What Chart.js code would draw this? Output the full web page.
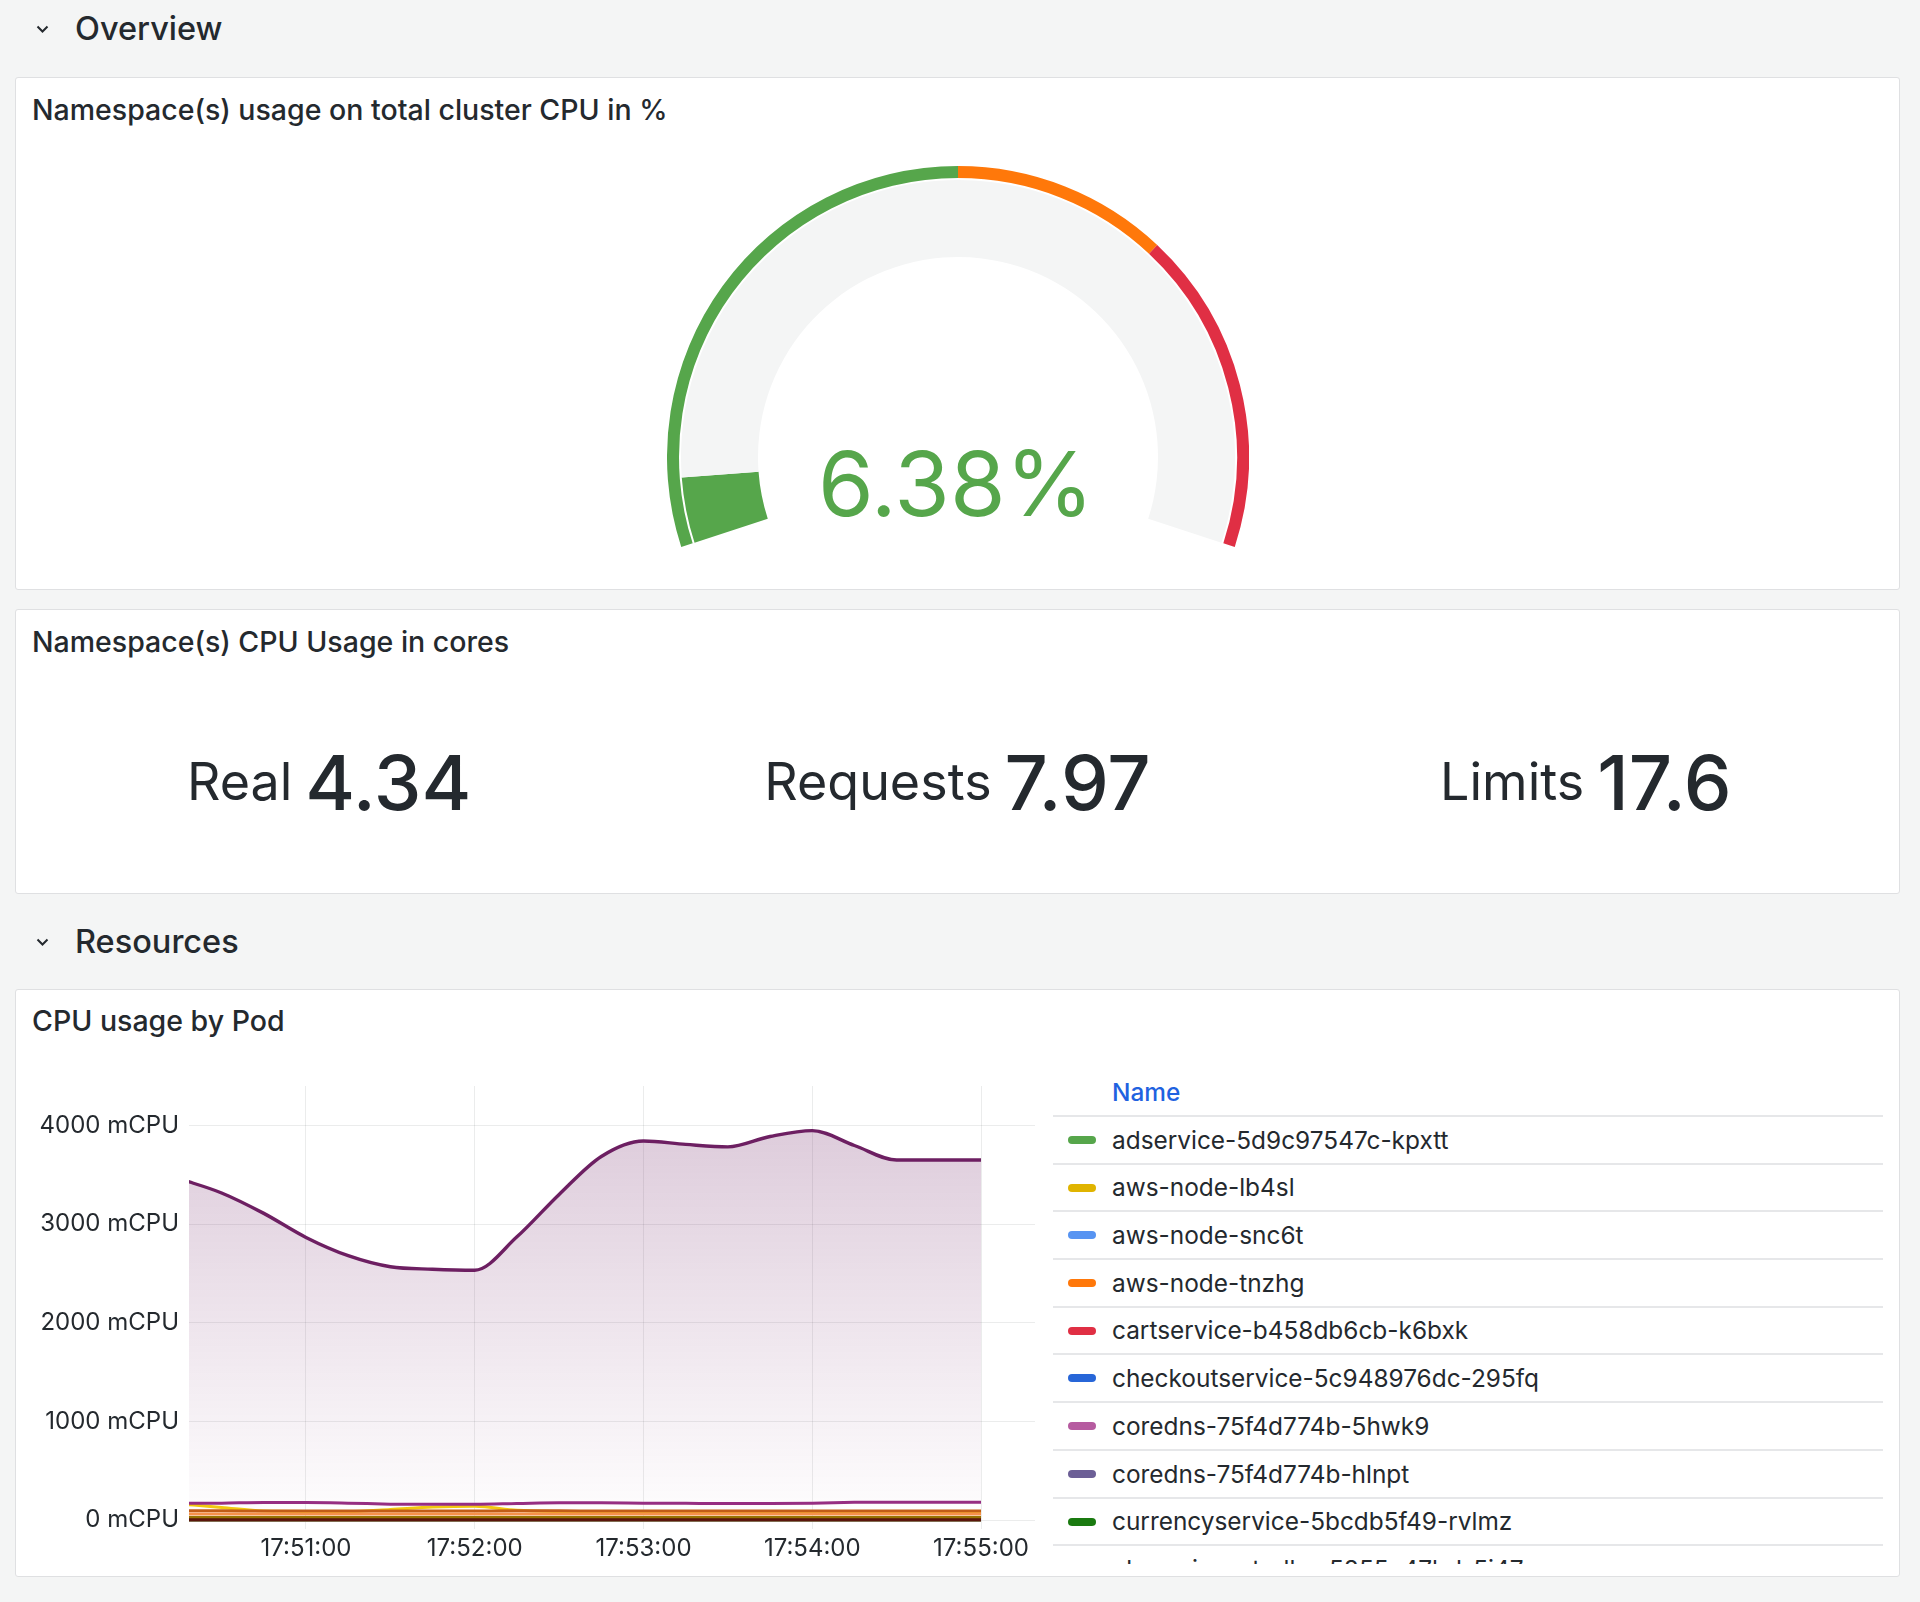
<!DOCTYPE html>
<html>
<head>
<meta charset="utf-8">
<title>Namespace CPU overview</title>
<script src="https://cdn.jsdelivr.net/npm/chart.js@4.4.1/dist/chart.umd.min.js"></script>
<style>
  html, body { margin: 0; padding: 0; }
  body {
    position: relative;
    width: 1920px;
    height: 1602px;
    overflow: hidden;
    background: #f4f5f5;
    font-family: Inter, "Noto Sans", sans-serif;
    color: #24292e;
  }
  .abs { position: absolute; }
  .row-title { font-size: 32.5px; font-weight: 500; line-height: 1; white-space: nowrap; }
  .panel { background: #fff; border: 1px solid #dfe0e2; border-radius: 3px; box-sizing: border-box; }
  .panel-title { font-size: 28.5px; font-weight: 500; line-height: 1; white-space: nowrap; }
  .stat {
    display: flex; align-items: center; justify-content: center; gap: 13px;
    line-height: 1; white-space: nowrap;
  }
  .stat .label { font-size: 52px; font-weight: 400; }
  .stat .value { font-size: 76px; font-weight: 500; }
  #gaugeText { font-size: 90px; font-weight: 400; line-height: 1; text-align: center; color: #56a64b; }
  #legend { overflow: hidden; font-size: 24.4px; line-height: 1; }
  #legend .head {
    height: 40px; border-bottom: 2px solid #e6e7e9; box-sizing: content-box;
    position: relative;
  }
  #legend .head span { position: absolute; left: 59px; top: 5px; color: #1f62e0; font-weight: 500; }
  #legend .item {
    height: 45.7px; border-bottom: 2px solid #e6e7e9; position: relative; white-space: nowrap;
  }
  #legend .swatch { position: absolute; left: 15px; top: 19px; width: 28px; height: 8px; border-radius: 4px; }
  #legend .name { position: absolute; left: 59px; top: 10.7px; }
</style>
</head>
<body>

<svg class="abs" style="left:36px;top:25px" width="13" height="9"><polyline points="1.5,1.5 6.5,6.5 11.5,1.5" fill="none" stroke="#24292e" stroke-width="2"/></svg>
<div class="abs row-title" style="left:75px;top:13px">Overview</div>

<div class="abs panel" style="left:15px;top:77px;width:1885px;height:513px"></div>
<div class="abs panel-title" style="left:32px;top:96px">Namespace(s) usage on total cluster CPU in %</div>
<canvas id="gaugeChart" class="abs" style="left:667px;top:166px" width="582" height="381"></canvas>
<div id="gaugeText" class="abs" style="left:756px;top:439px;width:400px"></div>

<div class="abs panel" style="left:15px;top:609px;width:1885px;height:285px"></div>
<div class="abs panel-title" style="left:32px;top:628px">Namespace(s) CPU Usage in cores</div>
<div id="stats"></div>

<svg class="abs" style="left:36px;top:938px" width="13" height="9"><polyline points="1.5,1.5 6.5,6.5 11.5,1.5" fill="none" stroke="#24292e" stroke-width="2"/></svg>
<div class="abs row-title" style="left:75px;top:926px">Resources</div>

<div class="abs panel" style="left:15px;top:989px;width:1885px;height:588px"></div>
<div class="abs panel-title" style="left:32px;top:1007px">CPU usage by Pod</div>
<canvas id="podChart" class="abs" style="left:30px;top:1076px" width="1010" height="490"></canvas>
<div id="legend" class="abs" style="left:1053px;top:1075px;width:830px;height:489px"></div>

<script>
// gauge: namespace share of cluster CPU
const gaugeValue = 6.38;
const gaugeMax = 100;
const thresholdSteps = [50, 70, 100];
const thresholdColors = ["#56a64b", "#ff780a", "#e02f44"];

// stat row
const statLabels = ["Real", "Requests", "Limits"];
const statValues = [4.34, 7.97, 17.6];

// time series, one sample every 15 s
const sampleTimes = [
  "17:50:15", "17:50:30", "17:50:45", "17:51:00", "17:51:15", "17:51:30", "17:51:45",
  "17:52:00", "17:52:15", "17:52:30", "17:52:45", "17:53:00", "17:53:15", "17:53:30",
  "17:53:45", "17:54:00", "17:54:15", "17:54:30", "17:54:45", "17:55:00",
];
const xTickLabels = ["17:51:00", "17:52:00", "17:53:00", "17:54:00", "17:55:00"];
const yTickValues = [0, 1000, 2000, 3000, 4000];

const podNames = [
  "adservice-5d9c97547c-kpxtt",
  "aws-node-lb4sl",
  "aws-node-snc6t",
  "aws-node-tnzhg",
  "cartservice-b458db6cb-k6bxk",
  "checkoutservice-5c948976dc-295fq",
  "coredns-75f4d774b-5hwk9",
  "coredns-75f4d774b-hlnpt",
  "currencyservice-5bcdb5f49-rvlmz",
  "ebs-csi-controller-5855c47bd-5j47x",
  "frontend",
  "kube-proxy",
  "loadgenerator",
  "paymentservice",
  "productcatalogservice",
  "recommendationservice",
  "shippingservice",
];
const podColors = [
  "#56a64b", "#e0b400", "#5794f2", "#ff780a", "#e02f44", "#2766d8", "#b65ba0",
  "#6c5f96", "#1a7a10", "#6ed0e0", "#962d82", "#967302", "#6d1f62", "#f6914b",
  "#c15c17", "#f2c80f", "#5a150b",
];

// mCPU per pod
const adserviceCpu       = [4, 4, 4, 4, 4, 4, 4, 4, 4, 4, 4, 4, 4, 4, 4, 4, 4, 4, 4, 4];
const awsNodeLb4slCpu    = [3, 3, 3, 3, 3, 3, 3, 3, 3, 3, 3, 3, 3, 3, 3, 3, 3, 3, 3, 3];
const awsNodeSnc6tCpu    = [3, 3, 3, 3, 3, 3, 3, 3, 3, 3, 3, 3, 3, 3, 3, 3, 3, 3, 3, 3];
const awsNodeTnzhgCpu    = [3, 3, 3, 3, 3, 3, 3, 3, 3, 3, 3, 3, 3, 3, 3, 3, 3, 3, 3, 3];
const cartserviceCpu     = [5, 5, 5, 5, 5, 5, 5, 5, 5, 5, 5, 5, 5, 5, 5, 5, 5, 5, 5, 5];
const checkoutserviceCpu = [2, 2, 2, 2, 2, 2, 2, 2, 2, 2, 2, 2, 2, 2, 2, 2, 2, 2, 2, 2];
const coredns5hwk9Cpu    = [2, 2, 2, 2, 2, 2, 2, 2, 2, 2, 2, 2, 2, 2, 2, 2, 2, 2, 2, 2];
const corednsHlnptCpu    = [2, 2, 2, 2, 2, 2, 2, 2, 2, 2, 2, 2, 2, 2, 2, 2, 2, 2, 2, 2];
const currencyserviceCpu = [6, 6, 6, 6, 6, 6, 6, 6, 6, 6, 6, 6, 6, 6, 6, 6, 6, 6, 6, 6];
const ebsCsiCpu          = [3, 3, 3, 3, 3, 3, 3, 3, 3, 3, 3, 3, 3, 3, 3, 3, 3, 3, 3, 3];
const frontendCpu        = [170, 172, 178, 178, 172, 162, 160, 160, 168, 176, 176, 172, 170, 168, 168, 170, 180, 182, 182, 182];
const kubeProxyCpu       = [26, 26, 26, 26, 26, 26, 26, 26, 26, 26, 26, 26, 26, 26, 26, 26, 26, 26, 26, 26];
const loadgeneratorCpu   = [3460, 3316, 3109, 2865, 2680, 2568, 2543, 2533, 2871, 3301, 3686, 3843, 3808, 3783, 3888, 3948, 3797, 3650, 3650, 3650];
const paymentserviceCpu  = [62, 62, 61, 61, 62, 62, 61, 61, 62, 62, 62, 61, 61, 61, 62, 62, 61, 61, 61, 61];
const productcatalogCpu  = [94, 94, 93, 93, 93, 92, 92, 93, 94, 94, 93, 93, 93, 92, 92, 92, 92, 92, 92, 92];
const recommendationCpu  = [165, 128, 92, 88, 88, 108, 132, 140, 100, 88, 86, 86, 85, 86, 85, 84, 86, 85, 85, 85];
const shippingserviceCpu = [3, 3, 3, 3, 3, 3, 3, 3, 3, 3, 3, 3, 3, 3, 3, 3, 3, 3, 3, 3];

const podValues = [
  adserviceCpu, awsNodeLb4slCpu, awsNodeSnc6tCpu, awsNodeTnzhgCpu, cartserviceCpu,
  checkoutserviceCpu, coredns5hwk9Cpu, corednsHlnptCpu, currencyserviceCpu, ebsCsiCpu,
  frontendCpu, kubeProxyCpu, loadgeneratorCpu, paymentserviceCpu, productcatalogCpu,
  recommendationCpu, shippingserviceCpu,
];

// which series end up painted on top (higher = drawn later)
const paintLayer = {
  loadgenerator: 0,
  recommendationservice: 2,
  frontend: 3,
  productcatalogservice: 4,
  paymentservice: 5,
  "kube-proxy": 6,
  shippingservice: 7,
};

const TEXT = "#24292e";
const GRID = "rgba(36, 41, 46, 0.09)";

function toSec(hms) {
  const [h, m, s] = hms.split(":").map(Number);
  return h * 3600 + m * 60 + s;
}

function fmtTime(v) {
  const h = Math.floor(v / 3600);
  const m = Math.floor((v % 3600) / 60);
  const s = Math.round(v % 60);
  return [h, m, s].map((n) => String(n).padStart(2, "0")).join(":");
}

function hexToRgba(hex, a) {
  const n = parseInt(hex.slice(1), 16);
  return `rgba(${(n >> 16) & 255}, ${(n >> 8) & 255}, ${n & 255}, ${a})`;
}

Chart.defaults.font.family = "Inter, 'Noto Sans', sans-serif";
Chart.defaults.color = TEXT;

function renderGauge() {
  const bounds = thresholdSteps.map((v, i) => v - (i ? thresholdSteps[i - 1] : 0));
  new Chart(document.getElementById("gaugeChart"), {
    type: "doughnut",
    data: {
      datasets: [
        { data: bounds, backgroundColor: thresholdColors, borderWidth: 0, weight: 12 },
        { data: [gaugeMax], backgroundColor: ["rgba(0,0,0,0)"], borderWidth: 0, weight: 2 },
        {
          data: [gaugeValue, gaugeMax - gaugeValue],
          backgroundColor: [thresholdColors[0], "#f4f5f5"],
          borderWidth: 0,
          weight: 77,
        },
      ],
    },
    options: {
      responsive: false,
      animation: false,
      events: [],
      rotation: -108,
      circumference: 216,
      cutout: "68.73%",
      layout: { padding: 0 },
      plugins: { legend: { display: false }, tooltip: { enabled: false } },
    },
  });
  document.getElementById("gaugeText").textContent = `${gaugeValue}%`;
}

function renderStats() {
  const host = document.getElementById("stats");
  const colW = 1885 / statLabels.length;
  statLabels.forEach((label, i) => {
    const el = document.createElement("div");
    el.className = "abs stat";
    el.style.left = `${15 + i * colW}px`;
    el.style.width = `${colW}px`;
    el.style.top = "732px";
    el.style.height = "100px";
    el.innerHTML = `<span class="label">${label}</span><span class="value">${statValues[i]}</span>`;
    host.appendChild(el);
  });
}

function renderPodChart() {
  const xs = sampleTimes.map(toSec);
  const datasets = podNames.map((name, i) => {
    const color = podColors[i];
    const big = name === "loadgenerator";
    return {
      label: name,
      data: podValues[i].map((y, k) => ({ x: xs[k], y })),
      borderColor: color,
      borderWidth: big ? 3.4 : 3,
      order: -(paintLayer[name] ?? 1),
      fill: big ? "origin" : false,
      backgroundColor: big
        ? (ctx) => {
            const area = ctx.chart.chartArea;
            if (!area) return "rgba(0,0,0,0)";
            const g = ctx.chart.ctx.createLinearGradient(0, area.top, 0, area.bottom);
            g.addColorStop(0, hexToRgba(color, 0.25));
            g.addColorStop(1, hexToRgba(color, 0));
            return g;
          }
        : color,
    };
  });

  new Chart(document.getElementById("podChart"), {
    type: "line",
    data: { datasets },
    options: {
      responsive: false,
      animation: false,
      events: [],
      layout: { padding: { left: 0, right: 5, top: 10, bottom: 0 } },
      elements: {
        point: { radius: 0 },
        line: { cubicInterpolationMode: "monotone", borderJoinStyle: "round" },
      },
      plugins: { legend: { display: false }, tooltip: { enabled: false } },
      scales: {
        x: {
          type: "linear",
          min: toSec("17:50:18") + 0.4,
          max: toSec("17:55:19") + 0.2,
          grid: { color: GRID, drawTicks: false },
          border: { display: false },
          ticks: {
            autoSkip: false,
            maxRotation: 0,
            padding: 5,
            color: TEXT,
            font: { size: 24 },
            callback: (v) => fmtTime(v),
          },
          afterBuildTicks: (s) => { s.ticks = xTickLabels.map((l) => ({ value: toSec(l) })); },
          afterFit: (s) => { s.height = 37; s.paddingLeft = 0; s.paddingRight = 0; },
        },
        y: {
          min: -90,
          max: 4400,
          grid: { color: GRID, drawTicks: false },
          border: { display: false },
          ticks: {
            padding: 10,
            color: TEXT,
            font: { size: 24 },
            callback: (v) => `${v} mCPU`,
          },
          afterBuildTicks: (s) => { s.ticks = yTickValues.map((v) => ({ value: v })); },
          afterFit: (s) => { s.width = 159; s.paddingTop = 0; s.paddingBottom = 0; },
        },
      },
    },
  });
}

function renderLegend() {
  const host = document.getElementById("legend");
  host.innerHTML = '<div class="head"><span>Name</span></div>';
  podNames
    .map((name, i) => ({ name, color: podColors[i] }))
    .sort((a, b) => a.name.localeCompare(b.name))
    .forEach(({ name, color }) => {
      const row = document.createElement("div");
      row.className = "item";
      row.innerHTML = `<span class="swatch" style="background:${color}"></span><span class="name">${name}</span>`;
      host.appendChild(row);
    });
}

renderGauge();
renderStats();
renderPodChart();
renderLegend();
</script>
</body>
</html>
